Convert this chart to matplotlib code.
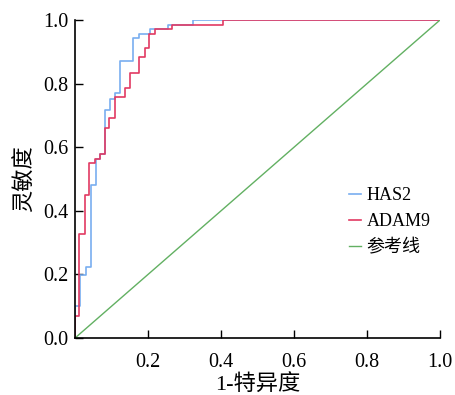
import matplotlib
matplotlib.use('Agg')
import matplotlib.pyplot as plt

# ROC 曲线数据（阶梯拐点：1-特异度, 灵敏度）
has2_fpr = [0, 0.0123, 0.0287, 0.0423, 0.0574, 0.0691, 0.0828, 0.0956, 0.1085,
            0.1238, 0.1598, 0.1749, 0.2049, 0.2541, 0.3224, 1.0]
has2_tpr = [0, 0.1006, 0.1997, 0.2233, 0.4811, 0.5629, 0.5786, 0.7170, 0.7506,
            0.7714, 0.8726, 0.9425, 0.9560, 0.9717, 0.9843, 1.0]

adam9_fpr = [0, 0.0117, 0.0273, 0.0391, 0.0538, 0.0691, 0.0828, 0.0937, 0.1101,
             0.1358, 0.1511, 0.1757, 0.1913, 0.2036, 0.2186, 0.2650, 0.4044, 1.0]
adam9_tpr = [0, 0.0692, 0.3270, 0.4497, 0.5503, 0.5629, 0.5786, 0.6613, 0.6909,
             0.7588, 0.7852, 0.8324, 0.8846, 0.9119, 0.9560, 0.9717, 0.9843, 1.0]

ref_x = [0, 1]
ref_y = [0, 1]

x_ticks = [0.2, 0.4, 0.6, 0.8, 1.0]
y_ticks = [0.0, 0.2, 0.4, 0.6, 0.8, 1.0]

fonts = ['Liberation Serif', 'Noto Sans CJK SC']
plt.rcParams['font.family'] = fonts

fig = plt.figure(figsize=(4.55, 3.95), dpi=100)
ax = fig.add_axes([0.165, 0.1443, 0.802, 0.805])

ax.plot(has2_fpr, has2_tpr, drawstyle='steps-pre', color='#79aef0', lw=1.2, label='HAS2')
ax.plot(adam9_fpr, adam9_tpr, drawstyle='steps-pre', color='#e23a62', lw=1.2, label='ADAM9')
ax.plot(ref_x, ref_y, color='#62b062', lw=1.0, label='参考线')

ax.set_xlim(0, 1)
ax.set_ylim(0, 1)
ax.set_xticks(x_ticks)
ax.set_yticks(y_ticks)
ax.set_xticklabels([f'{v:.1f}' for v in x_ticks])
ax.set_yticklabels([f'{v:.1f}' for v in y_ticks])
ax.tick_params(axis='x', direction='in', length=6, width=1, pad=11, labelsize=14.5)
ax.tick_params(axis='y', direction='in', length=6, width=1, pad=5, labelsize=14.5)

for s in ['top', 'right']:
    ax.spines[s].set_visible(False)
for s in ['left', 'bottom']:
    ax.spines[s].set_linewidth(1.2)
ax.patch.set_visible(False)

ax.set_xlabel('1-特异度', fontsize=16, labelpad=2)
ax.set_ylabel('灵敏度', fontsize=16, labelpad=5)

ax.legend(loc='center left', bbox_to_anchor=(0.705, 0.365), frameon=False,
          fontsize=13, handlelength=0.7, handletextpad=0.3, labelspacing=0.5)

fig.savefig('out.png', dpi=100)
